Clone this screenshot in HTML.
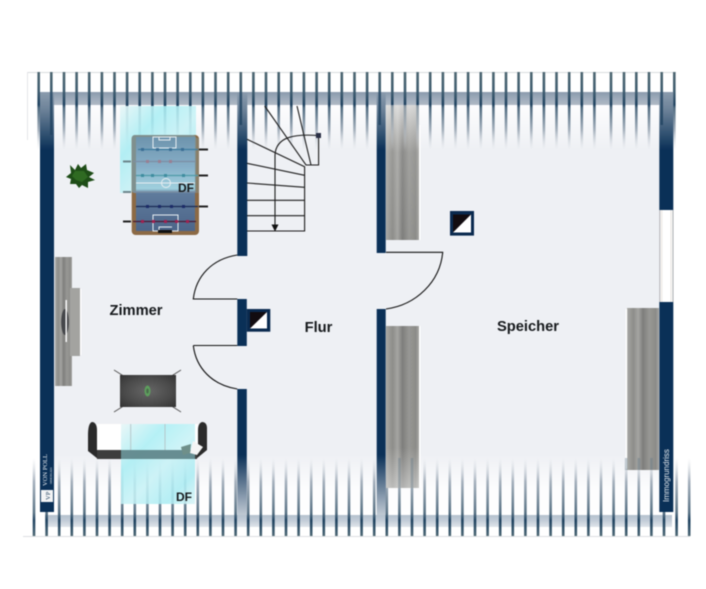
<!DOCTYPE html>
<html><head><meta charset="utf-8">
<style>
html,body{margin:0;padding:0;background:#fff;width:706px;height:589px;overflow:hidden}
svg{display:block;filter:blur(.45px)}
text{font-family:"Liberation Sans",sans-serif}
</style></head><body>
<svg width="706" height="589" viewBox="0 0 706 589" xmlns="http://www.w3.org/2000/svg">
<defs>
<linearGradient id="floor" x1="0" y1="0" x2="0" y2="1">
<stop offset="0" stop-color="#fdfdfe"/><stop offset=".11" stop-color="#eef0f4"/><stop offset=".85" stop-color="#eef0f4"/><stop offset=".94" stop-color="#fdfdfe"/><stop offset="1" stop-color="#fff"/>
</linearGradient>
<linearGradient id="tt" gradientUnits="userSpaceOnUse" x1="0" y1="72" x2="0" y2="150">
<stop offset="0" stop-color="#4e6772"/><stop offset=".25" stop-color="#3f5d70"/><stop offset=".42" stop-color="#1f4260"/><stop offset=".46" stop-color="#506b80"/><stop offset=".75" stop-color="#a7b2be"/><stop offset="1" stop-color="#d5dae0" stop-opacity="0"/>
</linearGradient>
<linearGradient id="tb" gradientUnits="userSpaceOnUse" x1="0" y1="458" x2="0" y2="536">
<stop offset="0" stop-color="#d5dae0" stop-opacity="0"/><stop offset=".3" stop-color="#a7b2be"/><stop offset=".7" stop-color="#5a7385"/><stop offset=".8" stop-color="#1f4260"/><stop offset=".95" stop-color="#3f5d70"/><stop offset="1" stop-color="#4e6772"/>
</linearGradient>
<linearGradient id="bandT" x1="0" y1="0" x2="0" y2="1"><stop offset="0" stop-color="#8b9bad"/><stop offset="1" stop-color="#b0bac6"/></linearGradient>
<linearGradient id="bandB" x1="0" y1="0" x2="0" y2="1"><stop offset="0" stop-color="#b4c1ce"/><stop offset=".5" stop-color="#c4ced9"/><stop offset="1" stop-color="#e0e5eb"/></linearGradient>
<linearGradient id="wallT" gradientUnits="userSpaceOnUse" x1="0" y1="92" x2="0" y2="150">
<stop offset="0" stop-color="#8b9bad"/><stop offset=".3" stop-color="#6d8399"/><stop offset="1" stop-color="#0a3057"/>
</linearGradient>
<linearGradient id="wallB" gradientUnits="userSpaceOnUse" x1="0" y1="455" x2="0" y2="516">
<stop offset="0" stop-color="#0a3057"/><stop offset="1" stop-color="#c3ccd6"/>
</linearGradient>
<linearGradient id="stripe" x1="0" y1="0" x2="1" y2="0">
<stop offset="0" stop-color="#a8a8a4"/><stop offset=".2" stop-color="#8d8d8a"/><stop offset=".35" stop-color="#a5a5a2"/><stop offset=".5" stop-color="#7e7e7c"/><stop offset=".7" stop-color="#989895"/><stop offset=".9" stop-color="#8b8b88"/><stop offset="1" stop-color="#a8a8a5"/>
</linearGradient>
<linearGradient id="fadeTop" x1="0" y1="0" x2="0" y2="1">
<stop offset="0" stop-color="#fff" stop-opacity=".65"/><stop offset=".35" stop-color="#fff" stop-opacity=".1"/><stop offset="1" stop-color="#fff" stop-opacity="0"/>
</linearGradient>
<linearGradient id="fadeBot" x1="0" y1="0" x2="0" y2="1">
<stop offset="0" stop-color="#fff" stop-opacity="0"/><stop offset=".75" stop-color="#fff" stop-opacity="0"/><stop offset="1" stop-color="#fff" stop-opacity=".4"/>
</linearGradient>
<linearGradient id="glass" x1="0" y1="0" x2="1" y2="1">
<stop offset="0" stop-color="#e8f6f7" stop-opacity=".9"/><stop offset=".3" stop-color="#a8eef4" stop-opacity=".85"/><stop offset=".55" stop-color="#c6f2f6" stop-opacity=".85"/><stop offset=".8" stop-color="#a9ecf3" stop-opacity=".85"/><stop offset="1" stop-color="#d8f3f6" stop-opacity=".85"/>
</linearGradient>
<linearGradient id="field" x1="0" y1="0" x2="0" y2="1">
<stop offset="0" stop-color="#6e94ad"/><stop offset=".3" stop-color="#85adc6"/><stop offset=".55" stop-color="#9fd0de"/><stop offset=".6" stop-color="#5f7b9c"/><stop offset="1" stop-color="#4c6589"/>
</linearGradient>
<radialGradient id="tbl" cx=".5" cy=".5" r=".7"><stop offset="0" stop-color="#666"/><stop offset=".6" stop-color="#4a4a4a"/><stop offset="1" stop-color="#333"/></radialGradient>
</defs>

<rect width="706" height="589" fill="#fff"/>
<rect x="54" y="105" width="605" height="410" fill="url(#floor)"/>
<path d="M28 72.5H676" stroke="#d9dcdf" stroke-width="1"/>
<path d="M23 536.5H690" stroke="#dcdfe2" stroke-width="1"/>
<path d="M27.500 72V140" stroke="#e3e5e8" stroke-width="1"/>

<rect x="40" y="92" width="620" height="13" fill="url(#bandT)"/>
<rect x="45" y="515" width="627" height="12" fill="url(#bandB)"/>

<path fill="none" stroke="url(#tt)" stroke-width="2.6" d="M38.7 72V150M51.3 72V150M64 72V150M76.6 72V150M89.2 72V150M101.9 72V150M114.5 72V150M127.1 72V150M139.7 72V150M152.4 72V150M165 72V150M177.6 72V150M190.3 72V150M202.9 72V150M215.5 72V150M228.2 72V150M240.8 72V150M253.4 72V150M266 72V150M278.7 72V150M291.3 72V150M303.9 72V150M316.6 72V150M329.2 72V150M341.8 72V150M354.5 72V150M367.1 72V150M379.7 72V150M392.3 72V150M405 72V150M417.6 72V150M430.2 72V150M442.9 72V150M455.5 72V150M468.1 72V150M480.8 72V150M493.4 72V150M506 72V150M518.6 72V150M531.3 72V150M543.9 72V150M556.5 72V150M569.2 72V150M581.8 72V150M594.4 72V150M611 72V150M624 72V150M636.3 72V150M649 72V150M661.7 72V150M674.3 72V150"/>
<path fill="none" stroke="url(#tb)" stroke-width="2.6" d="M34 458V536M46.6 458V536M59.2 458V536M71.8 458V536M84.4 458V536M97 458V536M109.6 458V536M122.2 458V536M134.8 458V536M147.4 458V536M160 458V536M172.6 458V536M185.2 458V536M197.8 458V536M210.4 458V536M223 458V536M235.6 458V536M248.2 458V536M260.8 458V536M273.4 458V536M286 458V536M298.6 458V536M311.2 458V536M323.8 458V536M336.4 458V536M349 458V536M361.6 458V536M374.2 458V536M386.8 458V536M399.4 458V536M412 458V536M424.6 458V536M437.2 458V536M449.8 458V536M462.4 458V536M475 458V536M487.6 458V536M500.2 458V536M512.8 458V536M525.4 458V536M538 458V536M550.6 458V536M563.2 458V536M575.8 458V536M588.4 458V536M601 458V536M613.6 458V536M626.2 458V536M638.8 458V536M651.4 458V536M664 458V536M676.6 458V536M689.2 458V536"/>

<!-- walls -->
<rect x="40" y="92" width="14" height="420" fill="url(#wallT)"/>
<rect x="237.3" y="92" width="10" height="164" fill="url(#wallT)"/>
<rect x="237.3" y="299" width="9.5" height="47" fill="#0a3057"/>
<rect x="237.3" y="389" width="9.5" height="126" fill="url(#wallB)"/>
<rect x="376.7" y="92" width="9" height="161" fill="url(#wallT)"/>
<rect x="376.7" y="309" width="9" height="206" fill="url(#wallB)"/>
<rect x="659.3" y="92" width="14" height="118" fill="url(#wallT)"/>
<rect x="659.3" y="302" width="14" height="210" fill="#0a3057"/>
<path d="M51.3 92V135M240.8 92V125M379.7 92V125M661.7 92V125" stroke="#1f4260" stroke-width="2.6" opacity=".8"/>
<!-- window -->
<rect x="659.3" y="210" width="14" height="92" fill="#fff"/>
<path d="M659.8 210V302M673 210V302" stroke="#a8abae" stroke-width="1"/>
<path d="M661.8 210V302M671 210V302" stroke="#e6e2dc" stroke-width=".9"/>

<!-- grey stripes -->
<g>
<rect x="386" y="105" width="33" height="135" fill="url(#stripe)"/><rect x="386" y="105" width="33" height="135" fill="url(#fadeTop)"/>
<rect x="419" y="125" width="1.5" height="115" fill="#fff"/>
<rect x="386" y="326" width="33" height="162" fill="url(#stripe)"/><rect x="386" y="326" width="33" height="162" fill="url(#fadeBot)"/>
<rect x="419" y="326" width="1.5" height="162" fill="#fff"/>
<rect x="627" y="308" width="32" height="162" fill="url(#stripe)"/>
<rect x="625.6" y="309" width="1.6" height="160" fill="#fff"/>
<rect x="55" y="257" width="17" height="129" fill="url(#stripe)"/>
<rect x="70" y="288" width="10" height="68" fill="#a3a3a0"/>
<rect x="80" y="289" width="1.4" height="66" fill="#fff"/>
<ellipse cx="65" cy="322" rx="3.8" ry="13" fill="#45464a"/>
<rect x="65.5" y="300" width="1.4" height="42" fill="#fff"/>
<path d="M392.3 105V150M405 105V150M417.600 105V150" stroke="url(#tt)" stroke-width="2.6" opacity=".5"/>
<path d="M399.400 458V488M412 458V488M626.200 458V470M638.800 458V470M651.400 458V470" stroke="#5f7686" stroke-width="2.6" opacity=".35"/>
</g>

<!-- plant -->
<g fill="#1e4d17">
<path d="M70 165L75 170L78 164L81 168L86 164L87 170L94 173L89 177L95 180L88 182L88 188L82 185L79 188L76 184L70 184L71 179L66 177L71 173Z"/>
<path d="M75 171L84 171L88 177L82 182L76 180L72 176Z" fill="#2f6a22"/>
</g>

<!-- foosball table -->
<rect x="120" y="106" width="76" height="87" fill="url(#glass)"/>
<rect x="131.7" y="135" width="67.3" height="100" rx="4" fill="#8c6a45"/>
<rect x="131.7" y="135" width="64.3" height="58" rx="3" fill="#7f908e"/>
<rect x="196" y="138" width="3" height="55" fill="#8a7f68"/>
<rect x="136" y="137" width="59" height="94" fill="url(#field)"/>
<g fill="none" stroke="#e8eef2" stroke-width="1">
<path d="M153 137H176V148H153ZM159 137H170V140H159Z"/>
<path d="M153 231V215H178V231ZM159 231V227H172"/>
<circle cx="166" cy="183" r="4.5"/>
<path d="M136 183H195"/>
</g>
<rect x="158" y="230" width="14" height="3" fill="#111"/>
<g stroke-width="1.2">
<path d="M138 149.5H198" stroke="#3e7da0"/>
<path d="M133 161.5H196" stroke="#7d8ea3"/>
<path d="M136 175.500H198" stroke="#4e9aa8"/>
<path d="M133 192H196" stroke="#7a8ba0"/>
<path d="M136 206.5H198" stroke="#1a2a55"/>
<path d="M133 221.5H196" stroke="#4a1a34"/>
</g>
<g stroke-width="2">
<path d="M199 149.5H208M199 175.5H208M199 206.5H208M123 221.5H131" stroke="#222"/>
<path d="M123 161.5H131M123 192H131" stroke="#6d868c"/>
</g>
<g fill="#3c6f95"><rect x="141" y="148" width="3" height="3"/><rect x="156" y="148" width="3" height="3"/><rect x="169" y="148" width="3" height="3"/><rect x="181" y="148" width="3" height="3"/></g>
<g fill="#997f93"><rect x="146" y="160" width="3" height="3"/><rect x="158" y="160" width="3" height="3"/><rect x="169" y="160" width="3" height="3"/></g>
<g fill="#3f8da0"><rect x="141" y="174" width="3" height="3"/><rect x="151" y="174" width="3" height="3"/><rect x="164" y="174" width="3" height="3"/><rect x="182" y="174" width="3" height="3"/></g>
<g fill="#1c2b68"><rect x="146" y="205" width="3" height="3"/><rect x="158" y="205" width="3" height="3"/><rect x="170" y="205" width="3" height="3"/><rect x="182" y="205" width="3" height="3"/></g>
<g fill="#a02050"><rect x="141" y="220" width="3" height="3"/><rect x="152" y="220" width="3" height="3"/><rect x="164" y="220" width="3" height="3"/><rect x="175" y="220" width="3" height="3"/><rect x="186" y="220" width="3" height="3"/></g>
<text x="178" y="192" font-size="12" font-weight="700" fill="#16191c">DF</text>

<!-- stairs -->
<g fill="none" stroke="#1c1c1c" stroke-width="1.1">
<path d="M247 231H304.6V166.7L247 139.3M247 215.7H304.6M247 200.3H304.6M247 183L304.6 187.3M247 163.3L304.6 175.3"/>
<path d="M264.7 106L306 165H318.6V135M297 106L311 165"/>
<path d="M318 135.5C296 134 276 136 275 155V225"/>
</g>
<path d="M271.5 224.5H278.5L275 231.5Z" fill="#111"/>
<rect x="316" y="133" width="5" height="5" fill="#2a2f45"/>

<!-- doors -->
<g fill="none" stroke="#111" stroke-width="1.1">
<path d="M237.3 255C212 259 196 276 193.3 299H237.3"/>
<path d="M193.3 345.5H237.3M193.3 345.5C196 368 212 385 237.3 389"/>
<path d="M386 252.3H442.7C440 282 416 305 386 309"/>
</g>

<!-- shafts -->
<rect x="246.7" y="309" width="23.6" height="22.7" fill="#0a2a4f"/>
<path d="M250 312H267V328.5H250Z" fill="#fff"/><path d="M250 312H267L250 328.5Z" fill="#120c10"/>
<rect x="450" y="211" width="24" height="24.6" fill="#0a2a4f"/>
<path d="M453 214.5H471V232.5H453Z" fill="#fff"/><path d="M453 214.5H471L453 232.5Z" fill="#120c10"/>

<!-- coffee table -->
<path d="M114 370L181 412M181 370L114 412" stroke="#555" stroke-width="1"/>
<rect x="120" y="375" width="56" height="32" fill="url(#tbl)"/>
<ellipse cx="147.5" cy="391" rx="3" ry="5.500" fill="#5d9f5d"/>
<ellipse cx="147.5" cy="391" rx="1.2" ry="2.500" fill="#4a6a4c"/>

<!-- sofa -->
<path d="M92 422C89 423 88 428 88 436V451L98 459H196L207 450V428C207 424 205 422 202 422C199 423 198 426 198 431V450H97V430C97 425 95 422 92 422Z" fill="#2b2b2b"/>
<rect x="97" y="424" width="101" height="26" fill="#fff"/>
<rect x="97" y="450" width="100" height="9" fill="#3d3d3d"/>
<rect x="121" y="424" width="74" height="80" fill="url(#glass)"/>
<path d="M130.700 424V450M165 424V450" stroke="#b5c8cb" stroke-width="1"/>
<rect x="121" y="450" width="74" height="9" fill="#5f8589" fill-opacity=".9"/>
<path d="M181 447L191 444L190 453L183 455Z" fill="#6f8f8a"/>
<path d="M193 441L203 447L197 455L190 453Z" fill="#f4f4f4"/>
<text x="176" y="501" font-size="12" font-weight="700" fill="#16191c">DF</text>

<!-- logo -->
<text transform="translate(47,486) rotate(-90)" font-size="6.5" fill="#e8edf2" style="font-family:'Liberation Serif',serif">VON POLL</text>
<text transform="translate(52,484) rotate(-90)" font-size="2.8" fill="#cfd8e0">IMMOBILIEN</text>
<rect x="41" y="490" width="12" height="12" fill="#f3f4f5"/>
<text transform="translate(50,500) rotate(-90)" font-size="6.5" fill="#2b4a66" style="font-family:'Liberation Serif',serif">VP</text>

<text x="136" y="315" font-size="14.7" font-weight="700" text-anchor="middle" fill="#16191c">Zimmer</text>
<text x="318.500" y="332" font-size="14.7" font-weight="700" text-anchor="middle" fill="#16191c">Flur</text>
<text x="528" y="331" font-size="14.7" font-weight="700" text-anchor="middle" fill="#16191c">Speicher</text>
<text transform="translate(669,502) rotate(-90)" font-size="8" fill="#e4e9ee">Immogrundriss</text>
</svg>
</body></html>
